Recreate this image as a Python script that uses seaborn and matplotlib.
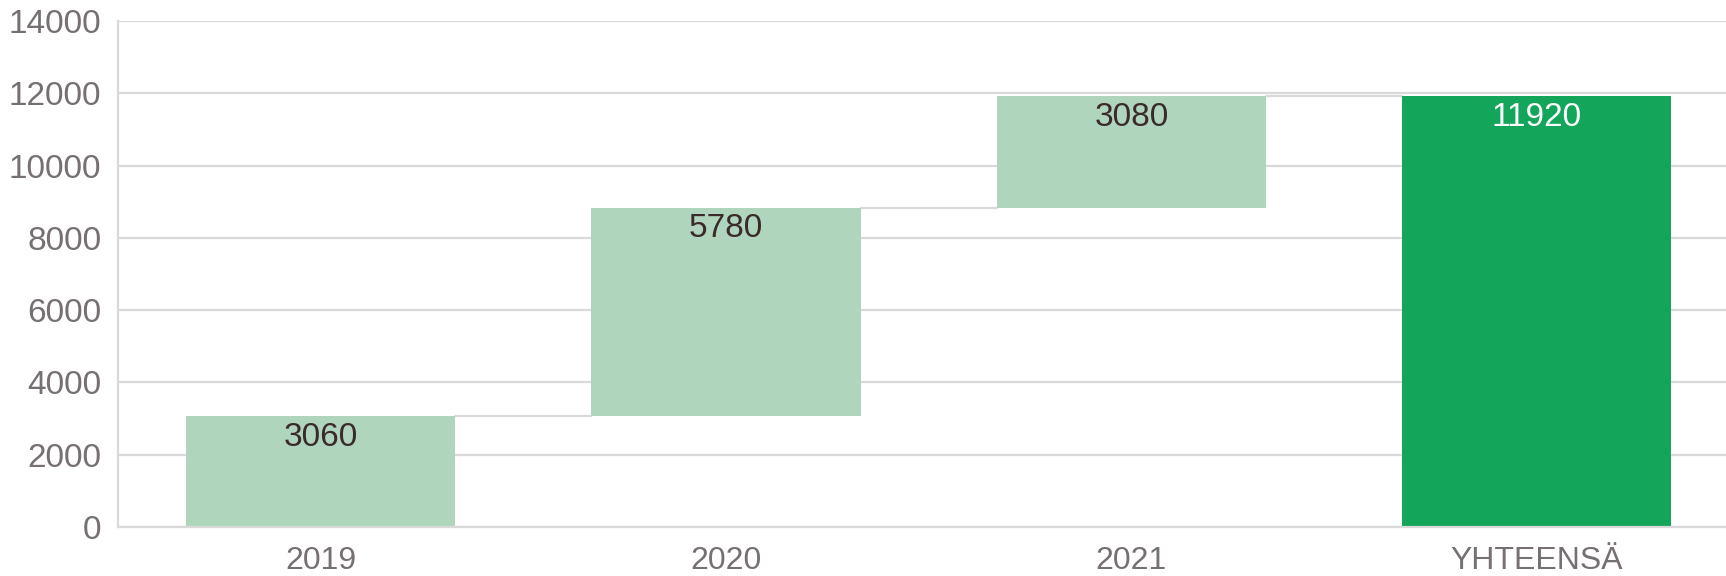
import numpy as np
import pandas as pd
import matplotlib.pyplot as plt
import seaborn as sns

categories = ['2019', '2020', '2021', 'YHTEENSÄ']
changes = [3060, 5780, 3080, 11920]
is_total = [False, False, False, True]

# waterfall: base of each step bar is the running sum before it
bases = []
running = 0
for val, tot in zip(changes, is_total):
    if tot:
        bases.append(0)
    else:
        bases.append(running)
        running += val
tops = [b + v for b, v in zip(bases, changes)]

light_green = '#AFD6BC'
dark_green = '#13A55A'
grid_col = '#D9D9D9'
tick_col = '#767070'

df = pd.DataFrame({'Vuosi': categories, 'Arvo': changes})

sns.set_theme(style='white')
plt.rcParams['font.family'] = ['Liberation Sans', 'DejaVu Sans']

fig = plt.figure(figsize=(17.26, 5.76), dpi=100)
ax = fig.add_axes([0.0683, 0.085, 0.9317, 0.8785])

palette = {c: (dark_green if t else light_green) for c, t in zip(categories, is_total)}
sns.barplot(data=df, x='Vuosi', y='Arvo', hue='Vuosi', palette=palette,
            width=0.665, saturation=1, legend=False, ax=ax, zorder=2)

# move step bars up onto their bases
for patch, b in zip(ax.patches, bases):
    patch.set_y(b)
    patch.set_linewidth(0)

# connector lines between bar tops
for i in range(len(categories) - 1):
    p0 = ax.patches[i]
    p1 = ax.patches[i + 1]
    ax.plot([p0.get_x() + p0.get_width(), p1.get_x()], [tops[i], tops[i]],
            color=grid_col, lw=1.6, zorder=1)

# value labels just inside the top of each bar
for i, (v, t) in enumerate(zip(changes, is_total)):
    ax.annotate(str(v), (i, tops[i]), xytext=(0, -15), textcoords='offset points',
                ha='center', va='center', fontsize=24,
                color='white' if t else '#3B2A2A')

ax.set_ylim(0, 14000)
ax.set_xlim(-0.5, 3.467)
ax.set_yticks(np.arange(0, 14001, 2000))
ax.yaxis.grid(True, color=grid_col, lw=1.6, zorder=0)
ax.set_axisbelow(True)
ax.set_xlabel('')
ax.set_ylabel('')

for side in ['top', 'right']:
    ax.spines[side].set_visible(False)
ax.spines['left'].set_color(grid_col)
ax.spines['left'].set_linewidth(1.6)
ax.spines['bottom'].set_color(grid_col)
ax.spines['bottom'].set_linewidth(1.6)

ax.tick_params(axis='y', length=0, pad=12, labelsize=24, labelcolor=tick_col)
ax.tick_params(axis='x', length=0, pad=14, labelsize=23, labelcolor=tick_col)

fig.savefig('out.png', dpi=100)
